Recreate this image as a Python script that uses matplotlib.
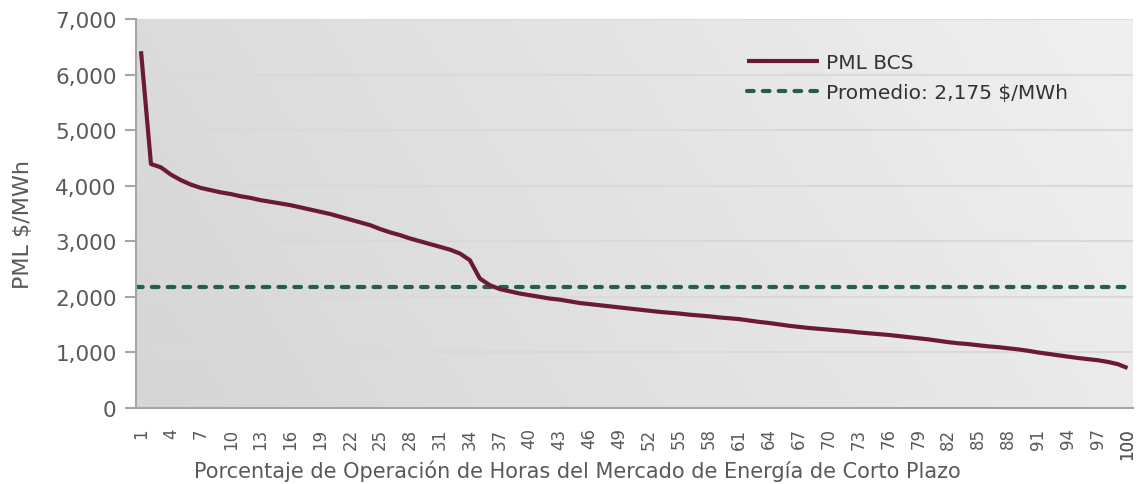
import numpy as np
import matplotlib
matplotlib.use("Agg")
import matplotlib.pyplot as plt
from matplotlib.colors import LinearSegmentedColormap

# data
pct_hours = list(range(1, 101))
pml_bcs = [6420, 4390, 4330, 4200, 4100, 4020, 3960, 3920, 3880, 3850,
           3810, 3780, 3740, 3710, 3680, 3650, 3610, 3570, 3530, 3490,
           3440, 3390, 3340, 3290, 3220, 3160, 3110, 3050, 3000, 2950,
           2900, 2850, 2780, 2660, 2330, 2210, 2140, 2100, 2060, 2030,
           2000, 1970, 1950, 1920, 1890, 1870, 1850, 1830, 1810, 1790,
           1770, 1750, 1730, 1715, 1700, 1680, 1665, 1650, 1630, 1615,
           1600, 1575, 1550, 1530, 1505, 1480, 1460, 1440, 1425, 1410,
           1395, 1380, 1360, 1345, 1330, 1315, 1295, 1275, 1255, 1235,
           1210, 1185, 1165, 1150, 1130, 1110, 1095, 1075, 1055, 1030,
           1000, 975, 950, 925, 900, 880, 860, 830, 790, 720]
promedio = 2175
y_ticks = [0, 1000, 2000, 3000, 4000, 5000, 6000, 7000]
x_ticks = list(range(1, 101, 3)) + [100]

text_color = "#595959"
plt.rcParams['font.family'] = ['DejaVu Sans']

fig = plt.figure(figsize=(11.44, 4.85), dpi=100)
ax = fig.add_axes([0.1189, 0.1567, 0.8711, 0.8021])

ax.set_xlim(0.5, 100.5)
ax.set_ylim(0, 7000)

# gradient background (darker at upper left, lighter at right)
gx, gy = np.meshgrid(np.linspace(0, 1, 200), np.linspace(0, 1, 100))
grad = 0.8 * gx + 0.2 * (1 - gy)
cmap = LinearSegmentedColormap.from_list("bg", ["#d6d6d6", "#f0f0f0"])
ax.imshow(grad, cmap=cmap, extent=[0, 1, 0, 1], transform=ax.transAxes,
          aspect="auto", zorder=0, origin="upper")

ax.set_yticks(y_ticks)
ax.set_yticklabels([f"{v:,}" for v in y_ticks])
ax.set_xticks(x_ticks)
ax.set_xticklabels([str(v) for v in x_ticks], rotation=90)
ax.grid(axis="y", color="#d9d9d9", linewidth=1.5, zorder=1)
ax.set_axisbelow(True)

ax.plot(pct_hours, pml_bcs, color="#6b1a36", linewidth=3,
        solid_capstyle="butt", label="PML BCS", zorder=3)
ax.axhline(promedio, color="#255e4c", linewidth=3, linestyle=(0, (1.6, 2.2)),
           dash_capstyle="round",
           label=f"Promedio: {promedio:,} $/MWh", zorder=2)

for s in ["top", "right"]:
    ax.spines[s].set_visible(False)
for s in ["left", "bottom"]:
    ax.spines[s].set_color("#a6a6a6")
    ax.spines[s].set_linewidth(1.5)

ax.tick_params(axis="y", length=8, width=1.5, color="#a6a6a6",
               labelsize=15.5, labelcolor=text_color, pad=6)
ax.tick_params(axis="x", length=0, labelsize=12, labelcolor=text_color, pad=14)

ax.set_xlabel("Porcentaje de Operación de Horas del Mercado de Energía de Corto Plazo",
              fontsize=15, color=text_color)
ax.xaxis.set_label_coords(0.443, -0.132)
ax.set_ylabel("PML $/MWh", fontsize=16, color=text_color)
ax.yaxis.set_label_coords(-0.103, 0.473)

leg = ax.legend(loc="upper left", bbox_to_anchor=(0.605, 0.932), frameon=False,
                fontsize=14.5, handlelength=3.6, handletextpad=0.3,
                labelspacing=0.5, borderaxespad=0)
for t in leg.get_texts():
    t.set_color("#333333")

fig.savefig("out.png", dpi=100)
